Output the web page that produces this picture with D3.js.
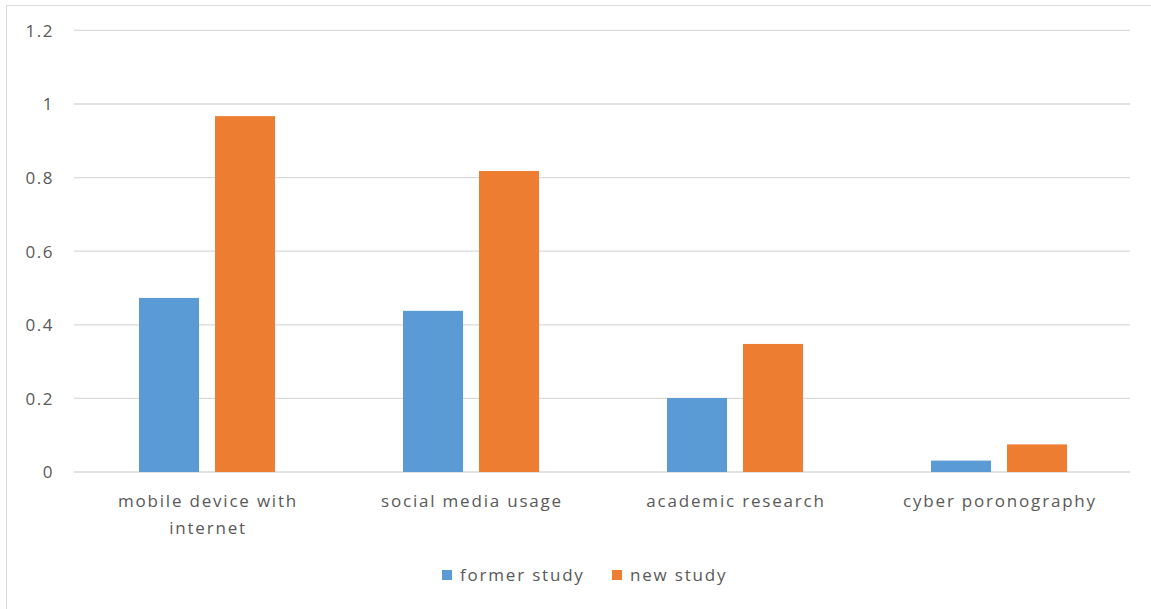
<!DOCTYPE html>
<html>
<head>
<meta charset="utf-8">
<script src="https://cdn.jsdelivr.net/npm/d3@7"></script>
<style>
  body { margin: 0; background: #fff; }
  text { font-family: "Open Sans", sans-serif; fill: #595959; }
</style>
</head>
<body>
<svg width="1151" height="609"></svg>
<script>
const categories = [["mobile device with", "internet"], ["social media usage"], ["academic research"], ["cyber poronography"]]
const seriesNames = ["former study", "new study"]
const formerStudy = [0.473, 0.438, 0.201, 0.031]
const newStudy = [0.967, 0.818, 0.348, 0.075]
const yTicks = [0, 0.2, 0.4, 0.6, 0.8, 1, 1.2]
const colors = ["#5b9bd5", "#ed7d31"]

const svg = d3.select("svg")

svg.append("rect")
    .attr("x", 6.5).attr("y", 5.5)
    .attr("width", 1160).attr("height", 620)
    .attr("fill", "none").attr("stroke", "#d9d9d9")

const plotLeft = 74, plotRight = 1130, plotTop = 30.4, plotBottom = 472

const x = d3.scaleBand()
    .domain(d3.range(categories.length))
    .range([plotLeft, plotRight])

const y = d3.scaleLinear().domain([0, 1.2]).range([plotBottom, plotTop])

// gridlines
svg.append("g")
    .selectAll("line")
    .data(yTicks)
    .enter()
    .append("line")
    .attr("x1", plotLeft).attr("x2", plotRight)
    .attr("y1", d => y(d)).attr("y2", d => y(d))
    .attr("stroke", "#d9d9d9")
    .attr("stroke-width", 1.3)

const yAxis = d3.axisLeft(y).tickValues(yTicks).tickSize(0).tickPadding(0).tickFormat(d => String(d))
const ya = svg.append("g").attr("transform", `translate(${54},0)`).call(yAxis)
ya.select(".domain").remove()
ya.selectAll("text")
    .attr("font-size", 17).attr("fill", "#595959").attr("font-family", "Open Sans")
    .attr("letter-spacing", "1.5px").attr("dy", "0.35em")

const barW = 60, gap = 16
const data = [formerStudy, newStudy]

data.forEach((series, si) => {
    svg.append("g")
        .selectAll("rect")
        .data(series)
        .enter()
        .append("rect")
        .attr("x", (d, i) => x(i) + x.bandwidth() / 2 - barW - gap / 2 + si * (barW + gap) + 1)
        .attr("y", d => y(d))
        .attr("width", barW)
        .attr("height", d => y(0) - y(d))
        .attr("fill", colors[si])
})

// category labels
const cat = svg.append("g")
    .selectAll("text")
    .data(categories)
    .enter()
    .append("text")
    .attr("text-anchor", "middle")
    .attr("font-size", 17)
    .attr("letter-spacing", "1.8px")
    .attr("x", (d, i) => x(i) + x.bandwidth() / 2 + 2)
    .attr("y", 507)
cat.selectAll("tspan")
    .data(d => d)
    .enter()
    .append("tspan")
    .attr("x", function() { return d3.select(this.parentNode).attr("x") })
    .attr("dy", (d, i) => i === 0 ? 0 : 27)
    .text(d => d)

// legend
const legend = svg.append("g")
const lx = [442, 612]
seriesNames.forEach((name, i) => {
    legend.append("rect")
        .attr("x", lx[i]).attr("y", 570)
        .attr("width", 10).attr("height", 10)
        .attr("fill", colors[i])
    legend.append("text")
        .attr("x", lx[i] + 18).attr("y", 581)
        .attr("font-size", 17)
        .attr("letter-spacing", "1.8px")
        .text(name)
})
</script>
</body>
</html>
